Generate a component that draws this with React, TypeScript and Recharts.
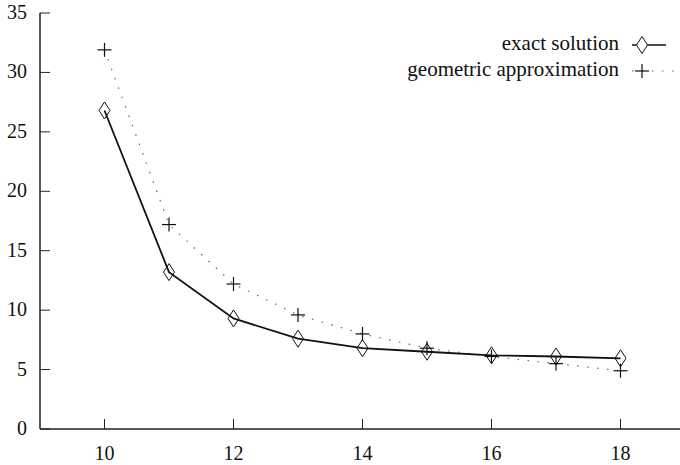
import React from "react";
import { LineChart, Line, XAxis, YAxis, Customized } from "recharts";

const xValues = [10, 11, 12, 13, 14, 15, 16, 17, 18];
const exactSolution = [26.8, 13.2, 9.3, 7.6, 6.8, 6.5, 6.2, 6.1, 5.95];
const geometricApprox = [31.9, 17.2, 12.2, 9.6, 8.0, 6.8, 6.1, 5.5, 4.9];
const xTicks = [10, 12, 14, 16, 18];
const yTicks = [0, 5, 10, 15, 20, 25, 30, 35];
const seriesNames = ["exact solution", "geometric approximation"];

const data = xValues.map((x, i) => ({ x, exact: exactSolution[i], geom: geometricApprox[i] }));

const FONT = "'Liberation Serif', serif";
const FS = 20;
const LFS = 21;
const AX = "#222";

const diamondPath = (cx: number, cy: number) =>
  `M${cx},${cy - 8.5} L${cx + 5.5},${cy} L${cx},${cy + 8.5} L${cx - 5.5},${cy} Z`;

const DiamondDot = (p: any) => {
  const { cx, cy, index } = p;
  if (cx == null || cy == null) return <g key={`d${index}`} />;
  return <path key={`d${index}`} d={diamondPath(cx, cy)} fill="none" stroke="#111" strokeWidth={1} />;
};

const PlusDot = (p: any) => {
  const { cx, cy, index } = p;
  if (cx == null || cy == null) return <g key={`p${index}`} />;
  return (
    <g key={`p${index}`}>
      <line x1={cx - 7} y1={cy} x2={cx + 7} y2={cy} stroke="#111" strokeWidth={1.2} />
      <line x1={cx} y1={cy - 7} x2={cx} y2={cy + 7} stroke="#111" strokeWidth={1.2} />
    </g>
  );
};

const BottomTick = (p: any) => {
  const { x, y, payload } = p;
  return (
    <g>
      <line x1={x} y1={y} x2={x} y2={y - 10} stroke={AX} strokeWidth={1} />
      <text x={x} y={y + 31} textAnchor="middle" fontFamily={FONT} fontSize={FS} fill="#111">
        {payload.value}
      </text>
    </g>
  );
};

const TopTick = (p: any) => {
  const { x, y } = p;
  return <line x1={x} y1={y} x2={x} y2={y + 10} stroke={AX} strokeWidth={1} />;
};

const LeftTick = (p: any) => {
  const { x, y, payload } = p;
  return (
    <g>
      <line x1={x} y1={y} x2={x + 10} y2={y} stroke={AX} strokeWidth={1} />
      <text x={x - 13} y={y + 6} textAnchor="end" fontFamily={FONT} fontSize={FS} fill="#111">
        {payload.value}
      </text>
    </g>
  );
};

const LegendBlock = () => {
  const textX = 619;
  const rows = [45, 71];
  return (
    <g>
      <text x={textX} y={rows[0] + 5} textAnchor="end" fontFamily={FONT} fontSize={LFS} fill="#111">
        {seriesNames[0]}
      </text>
      <line x1={632} y1={rows[0]} x2={666} y2={rows[0]} stroke="#111" strokeWidth={1.6} />
      <path d={diamondPath(642, rows[0])} fill="#fff" stroke="#111" strokeWidth={1} />
      <text x={textX} y={rows[1] + 5} textAnchor="end" fontFamily={FONT} fontSize={LFS} fill="#111">
        {seriesNames[1]}
      </text>
      <line x1={632} y1={rows[1]} x2={682} y2={rows[1]} stroke="#666" strokeWidth={1.2} strokeDasharray="1.5 8.5" />
      <line x1={635} y1={rows[1]} x2={649} y2={rows[1]} stroke="#111" strokeWidth={1.2} />
      <line x1={642} y1={rows[1] - 7} x2={642} y2={rows[1] + 7} stroke="#111" strokeWidth={1.2} />
    </g>
  );
};

export default function App() {
  return (
    <div style={{ position: "absolute", left: 0, top: 0, width: 680, height: 465, overflow: "hidden", background: "#fff" }}>
      <LineChart width={700} height={465} data={data} margin={{ top: 13, right: 15, bottom: 0, left: 0 }}>
        <XAxis
          dataKey="x"
          type="number"
          domain={[9, 19]}
          ticks={xTicks}
          allowDataOverflow
          height={36}
          tickSize={0}
          tickMargin={0}
          tickLine={false}
          axisLine={{ stroke: AX, strokeWidth: 1.5 }}
          tick={<BottomTick />}
          interval={0}
        />
        <XAxis
          xAxisId="top"
          orientation="top"
          dataKey="x"
          type="number"
          domain={[9, 19]}
          ticks={xTicks}
          allowDataOverflow
          height={0}
          tickSize={0}
          tickMargin={0}
          tickLine={false}
          axisLine={{ stroke: AX, strokeWidth: 1.5 }}
          tick={<TopTick />}
          interval={0}
        />
        <YAxis
          type="number"
          domain={[0, 35]}
          ticks={yTicks}
          width={40}
          tickSize={0}
          tickMargin={0}
          tickLine={false}
          axisLine={{ stroke: AX, strokeWidth: 1.5 }}
          tick={<LeftTick />}
          interval={0}
        />
        <Line
          dataKey="geom"
          name={seriesNames[1]}
          stroke="#666"
          strokeWidth={1.2}
          strokeDasharray="1.5 8.5"
          dot={PlusDot}
          activeDot={false}
          isAnimationActive={false}
        />
        <Line
          dataKey="exact"
          name={seriesNames[0]}
          stroke="#111"
          strokeWidth={1.8}
          dot={DiamondDot}
          activeDot={false}
          isAnimationActive={false}
        />
        <Customized component={LegendBlock} />
      </LineChart>
    </div>
  );
}
